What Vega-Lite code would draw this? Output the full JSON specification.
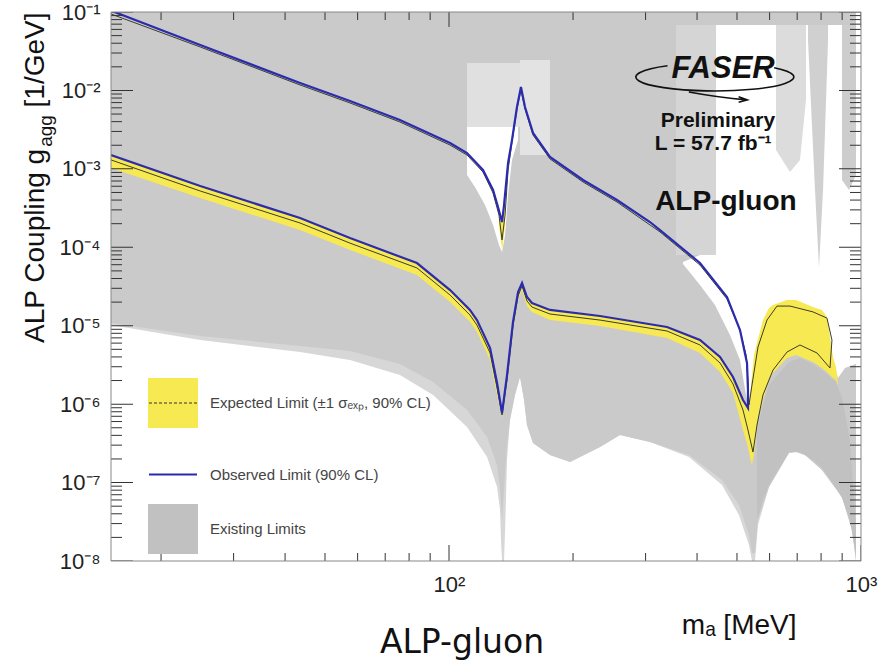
{
"$schema": "https://vega.github.io/schema/vega-lite/v6.json",
"width": 750, "height": 549,
"autosize": {"type": "none"},
"padding": {"left": 111, "top": 12, "right": 28, "bottom": 99},
"background": "white",
"config": {"view": {"stroke": null}},
"title": {"text": "ALP-gluon", "orient": "bottom", "anchor": "middle", "font": "DejaVu Sans", "fontSize": 33, "fontWeight": "normal", "color": "#111", "dx": -24, "offset": -12},
"datasets": {
"yt": [{"v":1e-8,"k":"major"},{"v":2e-8,"k":"minor"},{"v":3e-8,"k":"minor"},{"v":4e-8,"k":"minor"},{"v":5e-8,"k":"minor"},{"v":6e-8,"k":"minor"},{"v":7e-8,"k":"minor"},{"v":8e-8,"k":"minor"},{"v":9e-8,"k":"minor"},
{"v":1e-7,"k":"major"},{"v":2e-7,"k":"minor"},{"v":3e-7,"k":"minor"},{"v":4e-7,"k":"minor"},{"v":5e-7,"k":"minor"},{"v":6e-7,"k":"minor"},{"v":7e-7,"k":"minor"},{"v":8e-7,"k":"minor"},{"v":9e-7,"k":"minor"},
{"v":1e-6,"k":"major"},{"v":2e-6,"k":"minor"},{"v":3e-6,"k":"minor"},{"v":4e-6,"k":"minor"},{"v":5e-6,"k":"minor"},{"v":6e-6,"k":"minor"},{"v":7e-6,"k":"minor"},{"v":8e-6,"k":"minor"},{"v":9e-6,"k":"minor"},
{"v":1e-5,"k":"major"},{"v":2e-5,"k":"minor"},{"v":3e-5,"k":"minor"},{"v":4e-5,"k":"minor"},{"v":5e-5,"k":"minor"},{"v":6e-5,"k":"minor"},{"v":7e-5,"k":"minor"},{"v":8e-5,"k":"minor"},{"v":9e-5,"k":"minor"},
{"v":1e-4,"k":"major"},{"v":2e-4,"k":"minor"},{"v":3e-4,"k":"minor"},{"v":4e-4,"k":"minor"},{"v":5e-4,"k":"minor"},{"v":6e-4,"k":"minor"},{"v":7e-4,"k":"minor"},{"v":8e-4,"k":"minor"},{"v":9e-4,"k":"minor"},
{"v":1e-3,"k":"major"},{"v":2e-3,"k":"minor"},{"v":3e-3,"k":"minor"},{"v":4e-3,"k":"minor"},{"v":5e-3,"k":"minor"},{"v":6e-3,"k":"minor"},{"v":7e-3,"k":"minor"},{"v":8e-3,"k":"minor"},{"v":9e-3,"k":"minor"},
{"v":1e-2,"k":"major"},{"v":2e-2,"k":"minor"},{"v":3e-2,"k":"minor"},{"v":4e-2,"k":"minor"},{"v":5e-2,"k":"minor"},{"v":6e-2,"k":"minor"},{"v":7e-2,"k":"minor"},{"v":8e-2,"k":"minor"},{"v":9e-2,"k":"minor"},
{"v":1e-1,"k":"major"}],
"xt": [{"v":20,"k":"minor"},{"v":30,"k":"minor"},{"v":40,"k":"minor"},{"v":50,"k":"minor"},{"v":60,"k":"minor"},{"v":70,"k":"minor"},{"v":80,"k":"minor"},{"v":90,"k":"minor"},{"v":100,"k":"major"},{"v":200,"k":"minor"},{"v":300,"k":"minor"},{"v":400,"k":"minor"},{"v":500,"k":"minor"},{"v":600,"k":"minor"},{"v":700,"k":"minor"},{"v":800,"k":"minor"},{"v":900,"k":"minor"},{"v":1000,"k":"major"}],
"gl": [{"m":15.12,"g":1.02e-5},{"m":24.9,"g":6.57e-6},{"m":43.5,"g":4.62e-6},{"m":57.5,"g":3.66e-6},{"m":76.0,"g":2.35e-6},{"m":91.5,"g":1.31e-6},{"m":110.6,"g":5.11e-7},{"m":123.7,"g":2.12e-7},{"m":130.8,"g":8.78e-8},{"m":133.0,"g":4.47e-8},{"m":133.7,"g":1.85e-8},{"m":134.5,"g":1e-8},{"m":136.0,"g":1e-8},{"m":136.8,"g":2.48e-8},{"m":138.3,"g":1.94e-7},{"m":140.6,"g":6.28e-7},{"m":144.6,"g":1.31e-6},{"m":148.7,"g":2.22e-6},{"m":152.1,"g":1.13e-6},{"m":154.6,"g":5.42e-7},{"m":159.9,"g":3.2e-7},{"m":175.8,"g":2.25e-7},{"m":196.7,"g":1.83e-7},{"m":219.9,"g":2.45e-7},{"m":232.6,"g":2.84e-7},{"m":260.0,"g":4.04e-7},{"m":307.5,"g":3.29e-7},{"m":382.4,"g":2.12e-7},{"m":459.9,"g":9.31e-8},{"m":505.6,"g":3.86e-8},{"m":534.7,"g":1.6e-8},{"m":543.7,"g":1e-8},{"m":553.0,"g":1e-8},{"m":562.3,"g":2.88e-8},{"m":598.0,"g":8.78e-8},{"m":668.7,"g":2.38e-7},{"m":695.3,"g":2.45e-7},{"m":731.3,"g":2.25e-7},{"m":804.0,"g":1.45e-7},{"m":899.3,"g":6.55e-8},{"m":951.0,"g":2.48e-8},{"m":972.5,"g":1e-8}],
"gm": [{"m":15.12,"g":1.08e-5},{"m":24.9,"g":7.4e-6},{"m":43.5,"g":5.51e-6},{"m":57.5,"g":4.76e-6},{"m":76.0,"g":3.25e-6},{"m":91.5,"g":1.92e-6},{"m":110.6,"g":8.42e-7},{"m":123.7,"g":3.81e-7},{"m":130.8,"g":1.67e-7},{"m":133.0,"g":8.04e-8},{"m":134.5,"g":3.33e-8},{"m":136.0,"g":8.04e-8},{"m":138.3,"g":3.01e-7},{"m":140.6,"g":6.28e-7},{"m":144.6,"g":1.31e-6},{"m":148.7,"g":2.22e-6},{"m":152.1,"g":1.13e-6},{"m":154.6,"g":5.42e-7},{"m":159.9,"g":3.2e-7},{"m":175.8,"g":2.25e-7},{"m":196.7,"g":1.83e-7},{"m":219.9,"g":2.45e-7},{"m":232.6,"g":2.84e-7},{"m":260.0,"g":4.04e-7},{"m":307.5,"g":3.29e-7},{"m":382.4,"g":2.25e-7},{"m":459.9,"g":1.08e-7},{"m":505.6,"g":5.18e-8},{"m":534.7,"g":2.15e-8},{"m":543.7,"g":1.26e-8},{"m":553.0,"g":1.26e-8},{"m":562.3,"g":3.33e-8},{"m":598.0,"g":8.78e-8},{"m":668.7,"g":2.38e-7},{"m":695.3,"g":2.45e-7},{"m":731.3,"g":2.25e-7},{"m":804.0,"g":1.45e-7},{"m":899.3,"g":6.55e-8},{"m":951.0,"g":2.48e-8},{"m":972.5,"g":1e-8}],
"gd": [{"m":559.2,"lo":3.33e-8,"hi":4.68e-7},{"m":578.2,"lo":5.99e-8,"hi":9.75e-7},{"m":598.0,"lo":9.31e-8,"hi":1.75e-6},{"m":668.7,"lo":2.45e-7,"hi":3.45e-6},{"m":711.0,"lo":2.45e-7,"hi":3.88e-6},{"m":764.6,"lo":1.94e-7,"hi":3.25e-6},{"m":804.0,"lo":1.54e-7,"hi":2.72e-6},{"m":869.5,"lo":8.53e-8,"hi":1.92e-6},{"m":899.3,"lo":6.36e-8,"hi":1.2e-6},{"m":940.3,"lo":3.33e-8,"hi":3.49e-7},{"m":972.5,"lo":1.19e-8,"hi":2.48e-8}],
"white": [
{"part":"W1","m":110.6,"lo":8.36e-4,"hi":3.42e-3},{"part":"W1","m":115.6,"lo":5.87e-4,"hi":3.42e-3},{"part":"W1","m":122.3,"lo":3.46e-4,"hi":3.42e-3},{"part":"W1","m":127.9,"lo":1.92e-4,"hi":3.42e-3},{"part":"W1","m":132.2,"lo":1.07e-4,"hi":3.42e-3},{"part":"W1","m":134.5,"lo":8.71e-5,"hi":3.42e-3},{"part":"W1","m":136.8,"lo":1.43e-4,"hi":3.42e-3},{"part":"W1","m":139.1,"lo":4.64e-4,"hi":3.42e-3},{"part":"W1","m":142.2,"lo":1.3e-3,"hi":3.42e-3},{"part":"W1","m":147.1,"lo":2.33e-3,"hi":3.42e-3},
{"part":"W2","m":369.8,"lo":6.12e-5,"hi":6.49e-5},{"part":"W2","m":406.6,"lo":3.31e-5,"hi":7.97e-5},{"part":"W2","m":442.2,"lo":1.84e-5,"hi":1.07e-4},{"part":"W2","m":444.6,"lo":1.73e-5,"hi":0.0683},{"part":"W2","m":480.8,"lo":7.62e-6,"hi":0.0683},{"part":"W2","m":508.5,"lo":3.66e-6,"hi":0.0683},{"part":"W2","m":525.9,"lo":1.31e-6,"hi":0.0683},{"part":"W2","m":534.7,"lo":8.93e-7,"hi":0.0683},{"part":"W2","m":543.7,"lo":2.03e-6,"hi":0.0683},{"part":"W2","m":559.2,"lo":5.68e-6,"hi":0.0683},{"part":"W2","m":611.5,"lo":1.73e-5,"hi":0.0683},{"part":"W2","m":695.3,"lo":2.01e-5,"hi":0.0683},{"part":"W2","m":764.6,"lo":1.59e-5,"hi":0.0683},{"part":"W2","m":826.8,"lo":1.18e-5,"hi":0.0683},{"part":"W2","m":855.0,"lo":3.66e-6,"hi":0.0683},{"part":"W2","m":879.2,"lo":2.16e-6,"hi":0.0683},{"part":"W2","m":914.5,"lo":2.89e-6,"hi":0.0683},{"part":"W2","m":1000,"lo":3.45e-6,"hi":0.0683}],
"light": [
{"part":"L1","m":110.6,"lo":3.42e-3,"hi":0.0224},{"part":"L1","m":148.7,"lo":3.42e-3,"hi":0.0224},
{"part":"L2","m":148.7,"lo":1.5e-3,"hi":0.0244},{"part":"L2","m":175.8,"lo":1.5e-3,"hi":0.0244},
{"part":"F1","m":355.6,"lo":7.97e-5,"hi":0.0683},{"part":"F1","m":444.6,"lo":7.97e-5,"hi":0.0683},
{"part":"F2","m":621.9,"lo":1.74e-3,"hi":0.0683},{"part":"F2","m":672.5,"lo":9.12e-4,"hi":0.0683},{"part":"F2","m":711.0,"lo":1.3e-3,"hi":0.0683},{"part":"F2","m":735.3,"lo":7.55e-3,"hi":0.0683},
{"part":"F3","m":743.6,"lo":0.044,"hi":0.0683},{"part":"F3","m":773.3,"lo":5.38e-4,"hi":0.0683},{"part":"F3","m":790.9,"lo":5.45e-5,"hi":0.0683},{"part":"F3","m":808.8,"lo":5.38e-4,"hi":0.0683},{"part":"F3","m":831.8,"lo":0.044,"hi":0.0683},
{"part":"F4","m":899.3,"lo":7.21e-4,"hi":0.0683},{"part":"F4","m":935.2,"lo":5.38e-4,"hi":0.0683},{"part":"F4","m":972.5,"lo":8.36e-4,"hi":0.0683}],
"band": [
{"seg":"A","m":15.12,"lo":1.026e-3,"hi":1.547e-3},{"seg":"A","m":24.9,"lo":4.25e-4,"hi":6.22e-4},{"seg":"A","m":43.5,"lo":1.66e-4,"hi":2.43e-4},{"seg":"A","m":57.5,"lo":9.24e-5,"hi":1.35e-4},{"seg":"A","m":83.6,"lo":4.43e-5,"hi":6.49e-5},{"seg":"A","m":100.6,"lo":2.01e-5,"hi":2.94e-5},{"seg":"A","m":112.4,"lo":1.12e-5,"hi":1.63e-5},{"seg":"A","m":116.9,"lo":8.32e-6,"hi":1.22e-5},{"seg":"A","m":125.8,"lo":3.66e-6,"hi":5.35e-6},{"seg":"A","m":130.8,"lo":1.31e-6,"hi":1.92e-6},{"seg":"A","m":134.5,"lo":6.66e-7,"hi":7.94e-7},{"seg":"A","m":138.3,"lo":1.75e-6,"hi":2.42e-6},{"seg":"A","m":143.0,"lo":8.82e-6,"hi":1.15e-5},{"seg":"A","m":147.1,"lo":2.13e-5,"hi":2.77e-5},{"seg":"A","m":150.4,"lo":2.85e-5,"hi":3.61e-5},{"seg":"A","m":154.6,"lo":1.78e-5,"hi":2.39e-5},{"seg":"A","m":159.0,"lo":1.5e-5,"hi":2.01e-5},{"seg":"A","m":175.8,"lo":1.18e-5,"hi":1.63e-5},{"seg":"A","m":232.6,"lo":9.92e-6,"hi":1.37e-5},{"seg":"A","m":338.2,"lo":6.97e-6,"hi":9.92e-6},{"seg":"A","m":406.6,"lo":4.49e-6,"hi":6.77e-6},{"seg":"A","m":454.8,"lo":2.57e-6,"hi":4.11e-6},{"seg":"A","m":489.0,"lo":1.39e-6,"hi":2.29e-6},{"seg":"A","m":517.1,"lo":4.68e-7,"hi":1.16e-6},{"seg":"A","m":531.7,"lo":2.84e-7,"hi":9.75e-7},{"seg":"A","m":537.7,"lo":2.12e-7,"hi":1.2e-6},{"seg":"A","m":543.7,"lo":1.67e-7,"hi":2.35e-6},{"seg":"A","m":549.9,"lo":2.25e-7,"hi":4.23e-6},{"seg":"A","m":559.2,"lo":5.75e-7,"hi":6.02e-6},{"seg":"A","m":578.2,"lo":1.13e-6,"hi":1.18e-5},{"seg":"A","m":598.0,"lo":2.03e-6,"hi":1.68e-5},{"seg":"A","m":611.5,"lo":2.49e-6,"hi":1.84e-5},{"seg":"A","m":661.3,"lo":3.88e-6,"hi":2.13e-5},{"seg":"A","m":695.3,"lo":4.23e-6,"hi":2.13e-5},{"seg":"A","m":764.6,"lo":3.45e-6,"hi":1.73e-5},{"seg":"A","m":804.0,"lo":2.89e-6,"hi":1.59e-5},{"seg":"A","m":826.8,"lo":2.57e-6,"hi":1.29e-5},{"seg":"A","m":855.0,"lo":2.16e-6,"hi":3.99e-6},{"seg":"A","m":869.5,"lo":2.03e-6,"hi":2.98e-6},{"seg":"A","m":879.2,"lo":1.75e-6,"hi":1.86e-6},
{"seg":"B","m":132.2,"lo":1.92e-4,"hi":2.58e-4},{"seg":"B","m":134.5,"lo":9.24e-5,"hi":2.1e-4},{"seg":"B","m":136.8,"lo":1.92e-4,"hi":3.46e-4}],
"med": [{"i":1,"m":15.12,"g":1.3e-3},{"i":2,"m":24.9,"g":5.22e-4},{"i":3,"m":43.5,"g":2.04e-4},{"i":4,"m":57.5,"g":1.13e-4},{"i":5,"m":83.6,"g":5.45e-5},{"i":6,"m":100.6,"g":2.46e-5},{"i":7,"m":112.4,"g":1.37e-5},{"i":8,"m":116.9,"g":1.02e-5},{"i":9,"m":125.8,"g":4.49e-6},{"i":10,"m":130.8,"g":1.61e-6},{"i":11,"m":134.5,"g":7.27e-7},{"i":12,"m":138.3,"g":2.03e-6},{"i":13,"m":143.0,"g":9.92e-6},{"i":14,"m":147.1,"g":2.39e-5},{"i":15,"m":150.4,"g":3.21e-5},{"i":16,"m":154.6,"g":2.07e-5},{"i":17,"m":159.0,"g":1.73e-5},{"i":18,"m":175.8,"g":1.41e-5},{"i":19,"m":232.6,"g":1.18e-5},{"i":20,"m":338.2,"g":8.56e-6},{"i":21,"m":406.6,"g":5.68e-6},{"i":22,"m":454.8,"g":3.35e-6},{"i":23,"m":489.0,"g":1.81e-6},{"i":24,"m":517.1,"g":8.42e-7},{"i":25,"m":531.7,"g":4.68e-7},{"i":26,"m":546.8,"g":2.45e-7},{"i":27,"m":559.2,"g":5.42e-7},{"i":28,"m":578.2,"g":1.31e-6},{"i":29,"m":611.5,"g":2.72e-6},{"i":30,"m":661.3,"g":4.62e-6},{"i":31,"m":711.0,"g":5.68e-6},{"i":32,"m":782.0,"g":4.49e-6},{"i":33,"m":840.8,"g":2.89e-6},{"i":34,"m":850.2,"g":6.57e-6},{"i":35,"m":826.8,"g":1.25e-5},{"i":36,"m":764.6,"g":1.5e-5},{"i":37,"m":672.5,"g":1.78e-5},{"i":38,"m":625.3,"g":1.78e-5},{"i":39,"m":591.3,"g":1.18e-5},{"i":40,"m":562.3,"g":5.35e-6},{"i":41,"m":543.7,"g":1.75e-6},{"i":42,"m":534.7,"g":9.75e-7},{"i":43,"m":531.7,"g":2.03e-6},{"i":44,"m":525.9,"g":4.23e-6},{"i":45,"m":508.5,"g":8.82e-6},{"i":46,"m":472.9,"g":2.19e-5},{"i":47,"m":406.6,"g":5.94e-5},{"i":48,"m":325.2,"g":1.57e-4},{"i":49,"m":255.7,"g":3.78e-4},{"i":50,"m":211.5,"g":6.8e-4},{"i":51,"m":175.8,"g":1.34e-3},{"i":52,"m":159.9,"g":2.7e-3},{"i":53,"m":152.9,"g":5.8e-3},{"i":54,"m":149.5,"g":0.01013},{"i":55,"m":146.2,"g":5.8e-3},{"i":56,"m":142.2,"g":2.2e-3},{"i":57,"m":139.1,"g":9.67e-4},{"i":58,"m":136.8,"g":2.58e-4},{"i":59,"m":134.5,"g":1.24e-4},{"i":60,"m":132.2,"g":2.58e-4},{"i":61,"m":127.9,"g":4.92e-4},{"i":62,"m":120.9,"g":9.12e-4},{"i":63,"m":110.6,"g":1.5e-3},{"i":64,"m":100.6,"g":2.01e-3},{"i":65,"m":76.0,"g":3.96e-3},{"i":66,"m":57.5,"g":6.92e-3},{"i":67,"m":43.5,"g":0.01173},{"i":68,"m":24.9,"g":0.0358},{"i":69,"m":15.12,"g":0.0943}],
"obs": [{"i":1,"m":15.12,"g":0.104},{"i":2,"m":24.9,"g":0.0379},{"i":3,"m":43.5,"g":0.01244},{"i":4,"m":57.5,"g":0.00733},{"i":5,"m":76.0,"g":0.0042},{"i":6,"m":100.6,"g":0.00214},{"i":7,"m":110.6,"g":0.00159},{"i":8,"m":120.9,"g":9.67e-4},{"i":9,"m":127.9,"g":5.38e-4},{"i":10,"m":131.5,"g":3.26e-4},{"i":11,"m":134.5,"g":2.1e-4},{"i":12,"m":136.0,"g":3.46e-4},{"i":13,"m":139.1,"g":1.19e-3},{"i":14,"m":142.2,"g":2.33e-3},{"i":15,"m":146.2,"g":6.14e-3},{"i":16,"m":149.5,"g":0.01106},{"i":17,"m":152.9,"g":6.14e-3},{"i":18,"m":159.9,"g":2.87e-3},{"i":19,"m":175.8,"g":1.42e-3},{"i":20,"m":211.5,"g":7.21e-4},{"i":21,"m":255.7,"g":4.01e-4},{"i":22,"m":307.5,"g":2.1e-4},{"i":23,"m":325.2,"g":1.66e-4},{"i":24,"m":406.6,"g":6.3e-5},{"i":25,"m":472.9,"g":2.32e-5},{"i":26,"m":508.5,"g":8.82e-6},{"i":27,"m":528.8,"g":3.35e-6},{"i":28,"m":531.7,"g":1.52e-6},{"i":29,"m":531.7,"g":8.93e-7},{"i":30,"m":517.1,"g":1.13e-6},{"i":31,"m":489.0,"g":2.22e-6},{"i":32,"m":454.8,"g":3.99e-6},{"i":33,"m":406.6,"g":6.57e-6},{"i":34,"m":338.2,"g":9.63e-6},{"i":35,"m":232.6,"g":1.33e-5},{"i":36,"m":175.8,"g":1.59e-5},{"i":37,"m":159.0,"g":1.95e-5},{"i":38,"m":154.6,"g":2.32e-5},{"i":39,"m":150.4,"g":3.5e-5},{"i":40,"m":147.1,"g":2.69e-5},{"i":41,"m":143.0,"g":1.12e-5},{"i":42,"m":138.3,"g":2.35e-6},{"i":43,"m":134.5,"g":7.71e-7},{"i":44,"m":130.8,"g":1.86e-6},{"i":45,"m":125.8,"g":5.2e-6},{"i":46,"m":116.9,"g":1.18e-5},{"i":47,"m":112.4,"g":1.59e-5},{"i":48,"m":104.6,"g":2.32e-5},{"i":49,"m":100.6,"g":2.85e-5},{"i":50,"m":83.6,"g":6.3e-5},{"i":51,"m":57.5,"g":1.31e-4},{"i":52,"m":43.5,"g":2.36e-4},{"i":53,"m":24.9,"g":6.05e-4},{"i":54,"m":15.12,"g":1.5e-3}]
},
"resolve": {"scale": {"size": "independent"}, "axis": {"x": "independent", "y": "independent"}},
"layer": [
{"data": {"name": "gl"}, "mark": {"type": "area", "color": "#d7d7d7", "clip": true},
 "encoding": {
  "x": {"field": "m", "type": "quantitative", "scale": {"type": "log", "domain": [15.12, 1000], "nice": false},
   "axis": {"orient": "bottom", "values": [100, 1000], "ticks": false, "tickSize": 0, "domain": false, "labelPadding": 13, "labelFont": "Liberation Sans", "labelFontSize": 22, "labelColor": "#222", "labelExpr": "'10' + (datum.value >= 999 ? '³' : '²')", "labelFlush": false, "labelOverlap": false, "grid": false, "zindex": 1,
    "title": "mₐ [MeV]", "titleFont": "Liberation Sans", "titleFontSize": 28, "titleFontWeight": "normal", "titleColor": "#111", "titleAlign": "right", "titleBaseline": "alphabetic", "titleX": 685, "titleY": 72}},
  "y": {"field": "g", "type": "quantitative", "stack": null, "scale": {"type": "log", "domain": [1e-8, 0.1], "nice": false},
   "axis": {"orient": "left", "values": [1e-8, 1e-7, 1e-6, 1e-5, 1e-4, 1e-3, 1e-2, 1e-1], "ticks": false, "tickSize": 0, "domain": false, "labelPadding": 11, "labelFont": "Liberation Sans", "labelFontSize": 22, "labelColor": "#222", "labelBaseline": "middle", "labelExpr": "'10' + (datum.value < 1 ? '⁻' : '') + ['⁰','¹','²','³','⁴','⁵','⁶','⁷','⁸','⁹'][abs(round(log(datum.value)/LN10))]", "labelFlush": false, "labelOverlap": false, "grid": false, "zindex": 1,
    "title": "ALP Coupling g\u2003\u2009 [1/GeV]", "titleFont": "Liberation Sans", "titleFontSize": 28, "titleFontWeight": "normal", "titleColor": "#111", "titleAngle": 270, "titleAlign": "right", "titleBaseline": "alphabetic", "titleX": -68, "titleY": 0}},
  "y2": {"datum": 0.1}}},
{"data": {"name": "gm"}, "mark": {"type": "area", "color": "#cacaca", "clip": true},
 "encoding": {
  "x": {"field": "m", "type": "quantitative", "scale": {"type": "log", "domain": [15.12, 1000], "nice": false}, "axis": null},
  "y": {"field": "g", "type": "quantitative", "stack": null, "scale": {"type": "log", "domain": [1e-8, 0.1], "nice": false}, "axis": null},
  "y2": {"datum": 0.1}}},
{"data": {"name": "gd"}, "mark": {"type": "area", "clip": true},
 "encoding": {
  "x": {"field": "m", "type": "quantitative", "scale": {"type": "log", "domain": [15.12, 1000], "nice": false}, "axis": null},
  "y": {"field": "lo", "type": "quantitative", "stack": null, "scale": {"type": "log", "domain": [1e-8, 0.1], "nice": false}, "axis": null},
  "y2": {"field": "hi"},
  "color": {"datum": "Existing Limits", "scale": {"domain": ["Expected Limit (±1 σₑₓₚ, 90% CL)", "Observed Limit (90% CL)", "Existing Limits"], "range": ["#f7e952", "#2b2bb0", "#c1c1c1"]},
   "legend": {"orient": "none", "legendX": 37, "legendY": 366, "title": null, "padding": 0, "symbolSize": 2304, "rowPadding": 18.5, "labelFont": "Liberation Sans", "labelFontSize": 15, "labelColor": "#444", "labelOffset": 12, "labelLimit": 400,
    "encode": {"symbols": {"update": {
      "shape": {"signal": "datum.value === 'Observed Limit (90% CL)' ? 'stroke' : 'square'"},
      "fill": {"signal": "datum.value === 'Observed Limit (90% CL)' ? 'transparent' : (datum.value === 'Existing Limits' ? '#b3b3b3' : '#f8ec5e')"},
      "stroke": {"signal": "datum.value === 'Observed Limit (90% CL)' ? '#5a5ad0' : 'transparent'"},
      "strokeWidth": {"value": 2},
      "opacity": {"value": 1}}}}}}}},
{"data": {"name": "white"}, "mark": {"type": "area", "color": "#ffffff", "clip": true},
 "encoding": {
  "x": {"field": "m", "type": "quantitative", "scale": {"type": "log", "domain": [15.12, 1000], "nice": false}, "axis": null},
  "y": {"field": "lo", "type": "quantitative", "stack": null, "scale": {"type": "log", "domain": [1e-8, 0.1], "nice": false}, "axis": null},
  "y2": {"field": "hi"},
  "detail": {"field": "part"}}},
{"data": {"name": "light"}, "mark": {"type": "area", "clip": true},
 "encoding": {
  "x": {"field": "m", "type": "quantitative", "scale": {"type": "log", "domain": [15.12, 1000], "nice": false}, "axis": null},
  "y": {"field": "lo", "type": "quantitative", "stack": null, "scale": {"type": "log", "domain": [1e-8, 0.1], "nice": false}, "axis": null},
  "y2": {"field": "hi"},
  "fill": {"field": "part", "type": "nominal", "scale": {"domain": ["L1", "L2", "F1", "F2", "F3", "F4"], "range": ["#e0e0e0", "#e3e3e3", "#d5d5d5", "#dcdcdc", "#d0d0d0", "#cdcdcd"]}, "legend": null}}},
{"data": {"name": "band"}, "mark": {"type": "area", "clip": true},
 "encoding": {
  "x": {"field": "m", "type": "quantitative", "scale": {"type": "log", "domain": [15.12, 1000], "nice": false}, "axis": null},
  "y": {"field": "lo", "type": "quantitative", "stack": null, "scale": {"type": "log", "domain": [1e-8, 0.1], "nice": false}, "axis": null},
  "y2": {"field": "hi"},
  "detail": {"field": "seg"},
  "color": {"datum": "Expected Limit (±1 σₑₓₚ, 90% CL)"}}},
{"data": {"name": "med"}, "mark": {"type": "line", "color": "#3d3d2a", "strokeWidth": 1, "clip": true},
 "encoding": {
  "x": {"field": "m", "type": "quantitative", "scale": {"type": "log", "domain": [15.12, 1000], "nice": false}, "axis": null},
  "y": {"field": "g", "type": "quantitative", "scale": {"type": "log", "domain": [1e-8, 0.1], "nice": false}, "axis": null},
  "order": {"field": "i", "type": "quantitative"}}},
{"data": {"values": [{}]}, "mark": {"type": "line", "color": "#333", "strokeWidth": 1.2, "clip": true},
 "encoding": {
  "x": {"datum": 15.12, "type": "quantitative", "scale": {"type": "log", "domain": [15.12, 1000], "nice": false}, "axis": null},
  "y": {"datum": 1e-8, "type": "quantitative", "scale": {"type": "log", "domain": [1e-8, 0.1], "nice": false}, "axis": null},
  "strokeDash": {"datum": "Expected Limit (±1 σₑₓₚ, 90% CL)", "scale": {"range": [[3, 2]]},
   "legend": {"orient": "none", "legendX": 37, "legendY": 366, "title": null, "padding": 0, "symbolType": "stroke", "symbolSize": 2304, "symbolStrokeColor": "#333", "symbolStrokeWidth": 1.2, "labelExpr": "''"}}}},
{"data": {"name": "obs"}, "mark": {"type": "line", "strokeWidth": 2.2, "clip": true},
 "encoding": {
  "x": {"field": "m", "type": "quantitative", "scale": {"type": "log", "domain": [15.12, 1000], "nice": false}, "axis": null},
  "y": {"field": "g", "type": "quantitative", "scale": {"type": "log", "domain": [1e-8, 0.1], "nice": false}, "axis": null},
  "order": {"field": "i", "type": "quantitative"},
  "color": {"datum": "Observed Limit (90% CL)"}}},
{"data": {"name": "yt"}, "mark": {"type": "tick", "orient": "horizontal", "color": "#333", "thickness": 1, "opacity": 1, "clip": true},
 "encoding": {
  "x": {"datum": 15.12, "type": "quantitative", "scale": {"type": "log", "domain": [15.12, 1000], "nice": false}, "axis": null},
  "y": {"field": "v", "type": "quantitative", "scale": {"type": "log", "domain": [1e-8, 0.1], "nice": false}, "axis": null},
  "size": {"field": "k", "type": "ordinal", "scale": {"domain": ["major", "minor"], "range": [44, 22]}, "legend": null}}},
{"data": {"name": "yt"}, "mark": {"type": "tick", "orient": "horizontal", "color": "#333", "thickness": 1, "opacity": 1, "clip": true},
 "encoding": {
  "x": {"datum": 1000, "type": "quantitative", "scale": {"type": "log", "domain": [15.12, 1000], "nice": false}, "axis": null},
  "y": {"field": "v", "type": "quantitative", "scale": {"type": "log", "domain": [1e-8, 0.1], "nice": false}, "axis": null},
  "size": {"field": "k", "type": "ordinal", "scale": {"domain": ["major", "minor"], "range": [44, 22]}, "legend": null}}},
{"data": {"name": "xt"}, "mark": {"type": "tick", "orient": "vertical", "color": "#333", "thickness": 1, "opacity": 1, "clip": true},
 "encoding": {
  "x": {"field": "v", "type": "quantitative", "scale": {"type": "log", "domain": [15.12, 1000], "nice": false}, "axis": null},
  "y": {"datum": 1e-8, "type": "quantitative", "scale": {"type": "log", "domain": [1e-8, 0.1], "nice": false}, "axis": null},
  "size": {"field": "k", "type": "ordinal", "scale": {"domain": ["major", "minor"], "range": [32, 16]}, "legend": null}}},
{"data": {"name": "xt"}, "mark": {"type": "tick", "orient": "vertical", "color": "#333", "thickness": 1, "opacity": 1, "clip": true},
 "encoding": {
  "x": {"field": "v", "type": "quantitative", "scale": {"type": "log", "domain": [15.12, 1000], "nice": false}, "axis": null},
  "y": {"datum": 0.1, "type": "quantitative", "scale": {"type": "log", "domain": [1e-8, 0.1], "nice": false}, "axis": null},
  "size": {"field": "k", "type": "ordinal", "scale": {"domain": ["major", "minor"], "range": [30, 16]}, "legend": null}}},
{"data": {"values": [{}]}, "mark": {"type": "rect", "filled": false, "color": "#888", "strokeWidth": 1},
 "encoding": {
  "x": {"datum": 15.12, "type": "quantitative", "scale": {"type": "log", "domain": [15.12, 1000], "nice": false}, "axis": null},
  "x2": {"datum": 1000},
  "y": {"datum": 1e-8, "type": "quantitative", "scale": {"type": "log", "domain": [1e-8, 0.1], "nice": false}, "axis": null},
  "y2": {"datum": 0.1}}},
{"data": {"values": [{}]}, "mark": {"type": "point", "shape": "M-0.6,-0.142A1,0.177,0,1,0,0.75,-0.117M-0.33,0.19Q0.05,0.26,0.4,0.29M0.3,0.25L0.41,0.29L0.3,0.32", "size": 24964, "filled": false, "stroke": "#111", "strokeWidth": 1.6, "opacity": 1},
 "encoding": {
  "x": {"datum": 442, "type": "quantitative", "scale": {"type": "log", "domain": [15.12, 1000], "nice": false}, "axis": null},
  "y": {"datum": 0.01483, "type": "quantitative", "scale": {"type": "log", "domain": [1e-8, 0.1], "nice": false}, "axis": null}}},
{"data": {"values": [{}]}, "mark": {"type": "text", "text": "FASER", "font": "Liberation Sans", "fontStyle": "italic", "fontWeight": "bold", "fontSize": 31, "align": "center", "baseline": "alphabetic", "color": "#111"},
 "encoding": {
  "x": {"datum": 462.6, "type": "quantitative", "scale": {"type": "log", "domain": [15.12, 1000], "nice": false}, "axis": null},
  "y": {"datum": 0.01443, "type": "quantitative", "scale": {"type": "log", "domain": [1e-8, 0.1], "nice": false}, "axis": null}}},
{"data": {"values": [{}]}, "mark": {"type": "text", "text": "Preliminary", "font": "Liberation Sans", "fontWeight": "bold", "fontSize": 21, "align": "center", "baseline": "alphabetic", "color": "#111"},
 "encoding": {
  "x": {"datum": 449.5, "type": "quantitative", "scale": {"type": "log", "domain": [15.12, 1000], "nice": false}, "axis": null},
  "y": {"datum": 3.42e-3, "type": "quantitative", "scale": {"type": "log", "domain": [1e-8, 0.1], "nice": false}, "axis": null}}},
{"data": {"values": [{}]}, "mark": {"type": "text", "text": "L = 57.7 fb⁻¹", "font": "Liberation Sans", "fontWeight": "bold", "fontSize": 21, "align": "center", "baseline": "alphabetic", "color": "#111"},
 "encoding": {
  "x": {"datum": 437.5, "type": "quantitative", "scale": {"type": "log", "domain": [15.12, 1000], "nice": false}, "axis": null},
  "y": {"datum": 1.74e-3, "type": "quantitative", "scale": {"type": "log", "domain": [1e-8, 0.1], "nice": false}, "axis": null}}},
{"data": {"values": [{}]}, "mark": {"type": "text", "text": "ALP-gluon", "font": "Liberation Sans", "fontWeight": "bold", "fontSize": 28, "align": "center", "baseline": "alphabetic", "color": "#111"},
 "encoding": {
  "x": {"datum": 470, "type": "quantitative", "scale": {"type": "log", "domain": [15.12, 1000], "nice": false}, "axis": null},
  "y": {"datum": 2.99e-4, "type": "quantitative", "scale": {"type": "log", "domain": [1e-8, 0.1], "nice": false}, "axis": null}}},
{"data": {"values": [{}]}, "mark": {"type": "text", "text": "agg", "font": "Liberation Sans", "fontSize": 19, "angle": 270, "align": "center", "baseline": "alphabetic", "dy": -59, "color": "#111"},
 "encoding": {
  "x": {"datum": 15.12, "type": "quantitative", "scale": {"type": "log", "domain": [15.12, 1000], "nice": false}, "axis": null},
  "y": {"datum": 3.04e-3, "type": "quantitative", "scale": {"type": "log", "domain": [1e-8, 0.1], "nice": false}, "axis": null}}}
]
}
